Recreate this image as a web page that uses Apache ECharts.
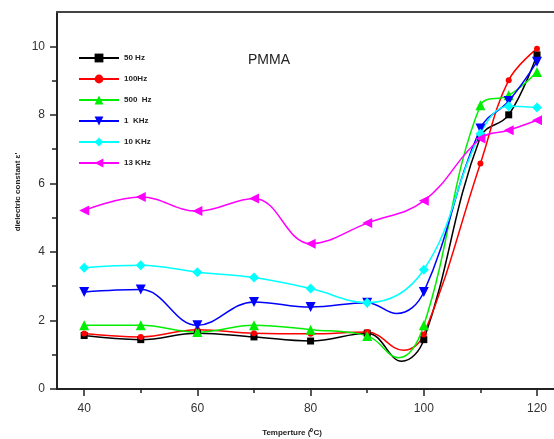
<!DOCTYPE html>
<html>
<head>
<meta charset="utf-8">
<script src="https://cdn.jsdelivr.net/npm/echarts@6/dist/echarts.min.js"></script>
<style>
html, body { margin: 0; padding: 0; background: #fff; }
#chart { width: 554px; height: 439px; }
</style>
</head>
<body>
<div id="chart"></div>
<script>
// temperatures (°C) at which each frequency was measured
const temps = [40, 50, 60, 70, 80, 90, 100, 110, 115, 120];
const hz50 = [1.56, 1.44, 1.63, 1.52, 1.40, 1.63, 1.44, 7.35, 8.00, 9.75];
const hz100 = [1.62, 1.52, 1.73, 1.63, 1.61, 1.66, 1.59, 6.58, 9.01, 9.93];
const hz500 = [1.86, 1.86, 1.66, 1.86, 1.73, 1.55, 1.86, 8.28, 8.57, 9.25];
const khz1 = [2.83, 2.90, 1.86, 2.54, 2.39, 2.52, 2.83, 7.60, 8.40, 9.55];
const khz10 = [3.54, 3.61, 3.41, 3.25, 2.93, 2.52, 3.48, 7.45, 8.25, 8.21];
const khz13 = [5.21, 5.60, 5.19, 5.56, 4.24, 4.84, 5.49, 7.31, 7.55, 7.84];

// low point of the drawn curve between 90 and 100 (no marker there)
const trough50 = [96.1, 0.81];
const trough100 = [96.4, 1.13];
const trough500 = [95.5, 0.91];
const trough1k = [95.2, 2.20];

const xTicks = [40, 60, 80, 100, 120];
const xMinor = [50, 70, 90, 110];
const yTicks = [0, 2, 4, 6, 8, 10];
const yMinor = [1, 3, 5, 7, 9];

const FONT = 'Liberation Sans';

function points(vals, trough) {
    const pts = temps.map((t, i) => [t, vals[i]]);
    if (trough) {
        pts.push({ value: trough, symbol: 'none' });
        pts.sort((a, b) => (a.value || a)[0] - (b.value || b)[0]);
    }
    return pts;
}

function line(name, color, vals, trough, symbol, size, rotate) {
    return {
        name: name,
        type: 'line',
        smooth: 0.4,
        data: points(vals, trough),
        symbol: symbol,
        symbolSize: size,
        symbolRotate: rotate || 0,
        showAllSymbol: true,
        lineStyle: { color: color, width: 1.5 },
        itemStyle: { color: color },
        emphasis: { disabled: true },
        z: 3
    };
}

const chart = echarts.init(document.getElementById('chart'), null, { renderer: 'canvas' });

chart.setOption({
    animation: false,
    backgroundColor: '#fff',
    grid: { left: 57, right: 0, top: 12, bottom: 50 },
    legend: {
        orient: 'vertical',
        left: 73,
        top: 48,
        itemWidth: 40,
        itemHeight: 11,
        itemGap: 11,
        textStyle: { fontFamily: FONT, fontSize: 8, fontWeight: 'bold', color: '#222', lineHeight: 10 },
        data: ['50 Hz', '100Hz', '500  Hz', '1  KHz', '10 KHz', '13 KHz']
    },
    xAxis: [
        {
            type: 'value', min: 35.2, max: 123, position: 'bottom',
            splitLine: { show: false },
            axisLine: { lineStyle: { color: '#222', width: 2 } },
            axisTick: { customValues: xTicks, length: 7, lineStyle: { color: '#222', width: 1.5 } },
            axisLabel: { customValues: xTicks, margin: 14, fontFamily: FONT, fontSize: 12, color: '#333' }
        },
        {
            type: 'value', min: 35.2, max: 123, position: 'bottom',
            splitLine: { show: false },
            axisLine: { show: false },
            axisTick: { customValues: xMinor, length: 4, lineStyle: { color: '#222', width: 1.5 } },
            axisLabel: { show: false }
        },
        {
            type: 'value', min: 35.2, max: 123, position: 'top',
            splitLine: { show: false },
            axisLine: { lineStyle: { color: '#444', width: 2 } },
            axisTick: { show: false },
            axisLabel: { show: false }
        }
    ],
    yAxis: [
        {
            type: 'value', min: 0, max: 11,
            splitLine: { show: false },
            axisLine: { show: true, lineStyle: { color: '#222', width: 2 } },
            axisTick: { show: true, customValues: yTicks, length: 7, lineStyle: { color: '#222', width: 1.5 } },
            axisLabel: { customValues: yTicks, margin: 12, fontFamily: FONT, fontSize: 12, color: '#333' }
        },
        {
            type: 'value', min: 0, max: 11, position: 'left',
            splitLine: { show: false },
            axisLine: { show: false },
            axisTick: { show: true, customValues: yMinor, length: 5, lineStyle: { color: '#222', width: 1.5 } },
            axisLabel: { show: false }
        }
    ],
    graphic: [
        {
            type: 'text', left: 248, top: 53,
            style: { text: 'PMMA', font: '14px ' + FONT, fill: '#222' }
        },
        {
            type: 'text', x: 18, y: 192, rotation: Math.PI / 2,
            style: {
                text: "dielectric constant \u03b5'", font: 'bold 8px ' + FONT, fill: '#222',
                align: 'center', verticalAlign: 'middle'
            }
        },
        {
            type: 'text', x: 292, y: 433,
            style: {
                text: 'Temperture (\u2070C)', font: 'bold 8px ' + FONT, fill: '#222',
                align: 'center', verticalAlign: 'middle'
            }
        }
    ],
    series: [
        line('50 Hz', '#000000', hz50, trough50, 'rect', 7),
        line('100Hz', '#ff0000', hz100, trough100, 'circle', 6),
        line('500  Hz', '#00ee00', hz500, trough500, 'triangle', 10),
        line('1  KHz', '#0000ff', khz1, trough1k, 'triangle', 10, 180),
        line('10 KHz', '#00ffff', khz10, null, 'diamond', 10),
        line('13 KHz', '#ff00ff', khz13, null, 'triangle', 10, 90)
    ]
});
</script>
</body>
</html>
